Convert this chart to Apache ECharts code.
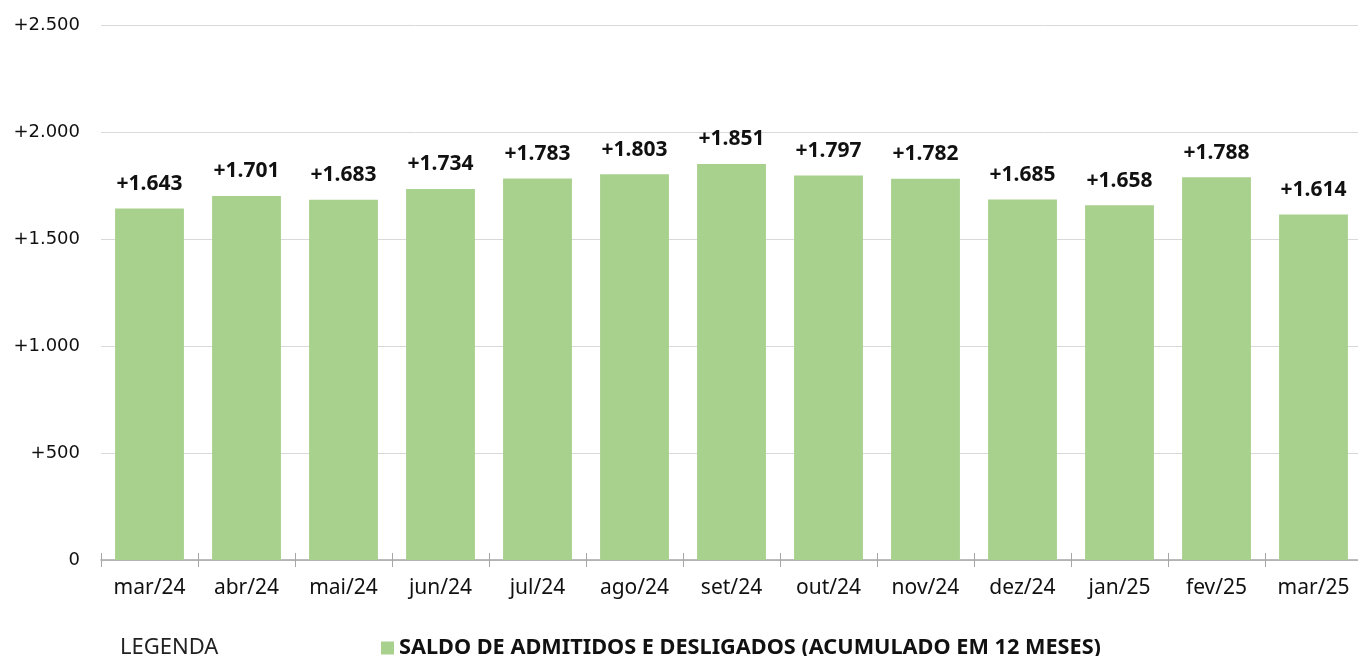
<!DOCTYPE html>
<html>
<head>
<meta charset="utf-8">
<script src="https://cdn.jsdelivr.net/npm/echarts@6/dist/echarts.min.js"></script>
<style>html,body{margin:0;padding:0;background:#fff;}#c{width:1358px;height:656px;}</style>
</head>
<body>
<div id="c"></div>
<script>
var categories = ['mar/24','abr/24','mai/24','jun/24','jul/24','ago/24','set/24','out/24','nov/24','dez/24','jan/25','fev/25','mar/25'];
var saldo = [1643, 1701, 1683, 1734, 1783, 1803, 1851, 1797, 1782, 1685, 1658, 1788, 1614];
var seriesName = 'SALDO DE ADMITIDOS E DESLIGADOS (ACUMULADO EM 12 MESES)';
var legendTitle = 'LEGENDA';

function fmt(v) {
  if (v === 0) return '0';
  var s = String(Math.abs(v)).replace(/\B(?=(\d{3})+(?!\d))/g, '.');
  return (v > 0 ? '+' : '-') + s;
}

var chart = echarts.init(document.getElementById('c'), null, {renderer: 'canvas'});
chart.setOption({
  animation: false,
  title: {
    text: legendTitle,
    left: 120, top: 637, padding: 0,
    textStyle: {fontFamily: 'Noto Sans', fontSize: 22, fontWeight: 'normal', color: '#222'}
  },
  legend: {
    left: 381, top: 637, padding: 0,
    itemWidth: 13, itemHeight: 13, itemGap: 6,
    icon: 'rect',
    textStyle: {fontFamily: 'Noto Sans', fontSize: 21.7, fontWeight: 'bold', color: '#111'},
    data: [seriesName]
  },
  grid: {left: 101, width: 1261, top: 25, bottom: 96, outerBoundsMode: 'none'},
  xAxis: [{
    type: 'category',
    data: categories,
    axisLine: {lineStyle: {color: '#a6a6a6', width: 1.5}},
    axisTick: {show: true, length: 7, lineStyle: {color: '#a6a6a6'}},
    axisLabel: {fontFamily: 'Noto Sans', fontSize: 21, color: '#111', margin: 18}
  }, {
    type: 'category',
    data: categories,
    position: 'bottom',
    axisLine: {show: false},
    axisTick: {show: true, inside: true, length: 7, lineStyle: {color: '#a6a6a6'}},
    axisLabel: {show: false}
  }],
  yAxis: {
    type: 'value',
    min: 0, max: 2500, interval: 500,
    axisLine: {show: false},
    axisTick: {show: false},
    splitLine: {lineStyle: {color: '#d9d9d9'}},
    axisLabel: {fontFamily: 'DejaVu Sans', fontSize: 18, color: '#111', margin: 21, formatter: fmt}
  },
  series: [{
    name: seriesName,
    type: 'bar',
    data: saldo,
    barCategoryGap: '29%',
    itemStyle: {color: '#a9d18e'},
    label: {
      show: true, position: 'top', distance: 14,
      fontFamily: 'Noto Sans', fontSize: 21, fontWeight: 'bold', color: '#111',
      formatter: function (p) { return fmt(p.value); }
    }
  }]
});
</script>
</body>
</html>
